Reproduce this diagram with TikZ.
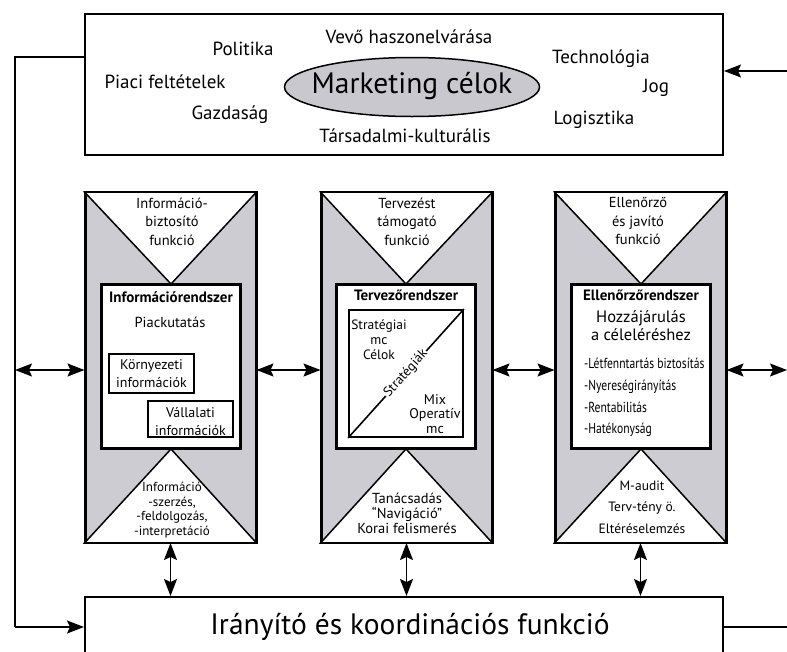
\documentclass[tikz,border=0pt]{standalone}
\usepackage{fontspec}
\setmainfont{PT Sans}
\newfontfamily\narrowfont[FakeStretch=0.8]{PT Sans}
\usetikzlibrary{arrows.meta,calc,shapes.geometric}
\definecolor{colgray}{RGB}{204,204,210}
\definecolor{ellgray}{RGB}{200,200,206}
\tikzset{
  bigbox/.style={draw, line width=2pt, minimum width=638pt},
  colbox/.style={draw, fill=colgray, line width=2pt, minimum width=170pt, minimum height=349pt, inner sep=0pt},
  inbox/.style={draw, fill=white, line width=2pt, minimum width=138pt, minimum height=163pt, inner sep=0pt},
  smallbox/.style={draw, fill=white, line width=1.8pt, inner sep=0pt},
  tri/.style={draw, fill=white, line width=1.5pt, line join=miter},
  conn/.style={line width=1.5pt},
  hd/.tip={Stealth[length=17pt,width=13pt,inset=3pt]},
  dbl/.style={conn, hd-hd},
  sgl/.style={conn, -hd},
  txt/.style={inner sep=0pt, align=center},
}
\begin{document}
\begin{tikzpicture}[x=1pt,y=-1pt]
\useasboundingbox (0,0) rectangle (787,651);
% top box
\node[bigbox, minimum height=141pt] (top) at (404,84.5) {};
\node[draw, fill=ellgray, ellipse, line width=1.5pt, minimum width=255pt, minimum height=59pt, inner sep=0pt] (goal) at (412,87) {};
\node[txt, font=\fontsize{29.5}{32}\selectfont] (goaltxt) at (412,86) {Marketing célok};
\begin{scope}[every node/.style={txt, font=\fontsize{19}{21}\selectfont}]
\node (t1) at (409,37) {Vevő haszonelvárása};
\node (t2) at (243,49) {Politika};
\node (t3) at (601,59) {Technológia};
\node (t4) at (165,82) {Piaci feltételek};
\node (t5) at (656,88) {Jog};
\node (t6) at (230,115) {Gazdaság};
\node (t7) at (594,120) {Logisztika};
\node (t8) at (405,136) {Társadalmi-kulturális};
\end{scope}
% bottom box
\node[bigbox, minimum height=73pt] (bot) at (404,633.5) {};
\node[txt, font=\fontsize{29.5}{32}\selectfont] (bottxt) at (410,627) {Irányító és koordinációs funkció};
% columns
\node[colbox] (c1) at (170.5,367.5) {};
\node[colbox] (c2) at (406.5,367.5) {};
\node[colbox] (c3) at (640.5,367.5) {};
\node[inbox] (i1) at (171,366.5) {};
\node[inbox] (i2) at (406,366.5) {};
\node[inbox] (i3) at (641,366.5) {};
\foreach \c/\i in {c1/i1,c2/i2,c3/i3}{
  \draw[tri] (\c.north west) -- (\c.north east) -- (\i.north) -- cycle;
  \draw[tri] (\c.south west) -- (\c.south east) -- (\i.south) -- cycle;
  \draw[line width=2pt] (\i.north west) rectangle (\i.south east);
  \draw[line width=2pt] (\c.north west) rectangle (\c.south east);
}
% column 1 texts
\node[txt, font=\fontsize{14.5}{18.5}\selectfont] (f1) at (172,221.5) {Információ-\\biztosító\\funkció};
\node[txt, font=\bfseries\fontsize{15}{17}\selectfont] (h1) at (171,297) {Információrendszer};
\node[txt, font=\fontsize{14.5}{17}\selectfont] (pk) at (170,322) {Piackutatás};
\node[smallbox, minimum width=85pt, minimum height=39pt] (env) at (151.5,373.5) {};
\node[txt, font=\fontsize{14}{18}\selectfont] (envt) at (151.5,374) {Környezeti\\információk};
\node[smallbox, minimum width=85pt, minimum height=36pt] (vall) at (190.5,419) {};
\node[txt, font=\fontsize{14}{18}\selectfont] (vallt) at (190.5,422) {Vállalati\\információk};
\node[txt, font=\fontsize{13}{14.7}\selectfont] (b1) at (172,510) {Információ\\-szerzés,\\-feldolgozás,\\-interpretáció};
% column 2 texts
\node[txt, font=\fontsize{14.5}{18.5}\selectfont] (f2) at (407,221.5) {Tervezést\\támogató\\funkció};
\node[txt, font=\bfseries\fontsize{15}{17}\selectfont] (h2) at (406,295) {Tervezőrendszer};
\node[smallbox, minimum width=114pt, minimum height=127pt] (s2) at (406,373.5) {};
\draw[line width=1.6pt] (s2.south west) -- node[sloped, fill=white, inner sep=1pt, font=\fontsize{13.5}{15}\selectfont] (strat) {Stratégiák} (s2.north east);
\node[txt, font=\fontsize{13.5}{15}\selectfont] (sc) at (379,340) {Stratégiai\\mc\\Célok};
\node[txt, font=\fontsize{14}{14.5}\selectfont] (op) at (435,414) {Mix\\Operatív\\mc};
\node[txt, font=\fontsize{14.5}{15}\selectfont] (b2) at (407,513) {Tanácsadás\\“Navigáció”\\Korai felismerés};
% column 3 texts
\node[txt, font=\fontsize{14.5}{18.5}\selectfont] (f3) at (638,221.5) {Ellenőrző\\és javító\\funkció};
\node[txt, font=\bfseries\fontsize{15}{17}\selectfont] (h3) at (641,295) {Ellenőrzőrendszer};
\node[txt, font=\fontsize{16.5}{18}\selectfont] (hj) at (641,326) {Hozzájárulás\\a céleléréshez};
\node[inner sep=0pt, align=left, anchor=west, font=\narrowfont\fontsize{14.5}{21.7}\selectfont] (list) at (584,397.5) {-Létfenntartás biztosítás\\-Nyereségirányítás\\-Rentabilitás\\-Hatékonyság};
\node[txt, font=\fontsize{13.5}{21.5}\selectfont] (b3) at (642,507) {M-audit\\Terv-tény ö.\\Eltéréselemzés};
% connectors
\coordinate (hy) at (15,370);
\coordinate (hr) at (787,370);
\coordinate (fbA) at (15,57);
\coordinate (fbB) at (15,627);
\coordinate (rin) at (787,71);
\coordinate (rout) at (787,627);
\draw[conn, line join=miter] (top.west |- fbA) -- (fbA) -- (fbB);
\draw[sgl] (fbB) -- (bot.west |- fbB);
\draw[sgl] (rin) -- (top.east |- rin);
\draw[conn] (bot.east |- rout) -- (rout);
\draw[dbl] (hy) -- (c1.west |- hy);
\draw[dbl] (c1.east |- hy) -- (c2.west |- hy);
\draw[dbl] (c2.east |- hy) -- (c3.west |- hy);
\draw[dbl] (c3.east |- hy) -- (hr);
\draw[dbl] (c1.south) -- (c1.south |- bot.north);
\draw[dbl] (c2.south) -- (c2.south |- bot.north);
\draw[dbl] (c3.south) -- (c3.south |- bot.north);
\end{tikzpicture}
\end{document}
